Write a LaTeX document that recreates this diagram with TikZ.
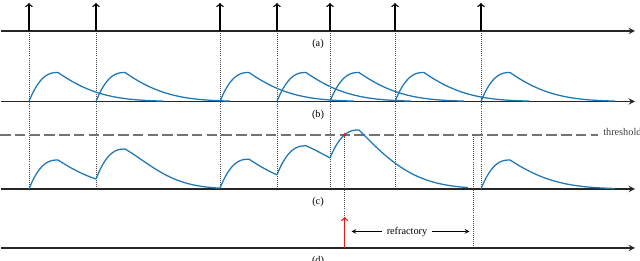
\documentclass[tikz,border=0pt]{standalone}
\usepackage{fontspec}
\setmainfont{Liberation Serif}

\definecolor{pspblue}{RGB}{31,119,180}
\definecolor{firered}{RGB}{228,26,28}

% one potential bump: rise from the last value, then decay
\def\vlast{0}
\newcommand{\psppiece}[6]{%
  \pgfmathsetmacro\vpk{\vlast+#3}
  \draw[psp] plot[domain=#1:#1+29,samples=30]
      (\x,{#2-\vlast-#3*(1-abs(1-(\x-#1)/29)^2*sqrt(abs(1-(\x-#1)/29)))})
    -- plot[domain=#1+29:#6,samples=60]
      (\x,{#2-\vpk*exp(-(\x-#1-29)/#4-((\x-#1-29)/#5)^2)});
  \pgfmathsetmacro\vend{\vpk*exp(-(#6-#1-29)/#4-((#6-#1-29)/#5)^2)}
  \global\let\vlast\vend
}

\begin{document}
\begin{tikzpicture}[
    x=0.025cm, y=-0.025cm,
    every node/.style={font=\fontsize{7.3}{8}\selectfont},
    axis/.style={line width=1pt,black!85,-stealth},
    spike/.style={line width=0.95pt,->},
    guide/.style={densely dotted,line width=0.45pt,black!70},
    psp/.style={pspblue,line width=0.9pt},
    thresh/.style={dash pattern=on 7.5pt off 3pt,line width=0.8pt,black!55}
  ]
  \useasboundingbox (0,0) rectangle (640,261);

  % input spikes and their guides
  \foreach \t [count=\i] in {29,96,220,277,330,395,481} {
    \coordinate (s\i) at (\t,31);
    \coordinate (st\i) at (\t,3);
    \coordinate (sc\i) at (\t,189);
    \draw[guide] (s\i) -- (sc\i);
  }

  % threshold
  \coordinate (th0) at (0,135);
  \coordinate (th1) at (598,135);
  \draw[thresh] (th0) -- (th1);
  \node[anchor=west,inner sep=0,text=black!75] (thlabel) at (603,131.5) {threshold};

  % firing and refractory marks
  \node[circle,fill=firered,inner sep=0,minimum size=2.6pt] (cross) at (344.6,135) {};
  \coordinate (fire) at (344.6,248);
  \coordinate (firetop) at (344.6,217);
  \coordinate (refend) at (473,135);
  \coordinate (refendd) at (473,248);
  \draw[guide] (cross) -- (firetop);
  \draw[guide] (refend) -- (refendd);

  % time axes
  \foreach \n/\y in {a/31,b/101.5,c/189,d/248} {
    \coordinate (\n0) at (1,\y);
    \coordinate (\n1) at (635,\y);
    \draw[axis] (\n0) -- (\n1);
    \node (lab\n) at (318,\y+13.5) {(\n)};
  }

  \foreach \i in {1,...,7}
    \draw[spike] (s\i) -- (st\i);

  % (b) single responses
  \foreach \t in {29,96,220,277,330,395,481} {
    \def\vlast{0}
    \psppiece{\t}{101.5}{29}{42}{80}{\t+134}
  }

  % (c) summed potential
  \gdef\vlast{0}
  \psppiece{29}{189}{29}{45}{80}{96}
  \psppiece{96}{189}{30}{70}{60}{220}
  \psppiece{220}{189}{29}{45}{80}{277}
  \psppiece{277}{189}{29}{100}{80}{330}
  \psppiece{330}{189}{28}{58}{80}{468}
  \gdef\vlast{0}
  \psppiece{481}{189}{29}{45}{80}{615}
  \node[circle,fill=firered,inner sep=0,minimum size=2.6pt] at (cross) {};

  % (d) output
  \draw[spike,firered] (fire) -- (firetop);
  \node (refr) at (407,231.5) {refractory};
  \coordinate (rl) at (351.5,231.5);
  \coordinate (rr) at (469.5,231.5);
  \draw[-stealth,line width=0.5pt] (refr) -- (rl);
  \draw[-stealth,line width=0.5pt] (refr) -- (rr);
\end{tikzpicture}
\end{document}
